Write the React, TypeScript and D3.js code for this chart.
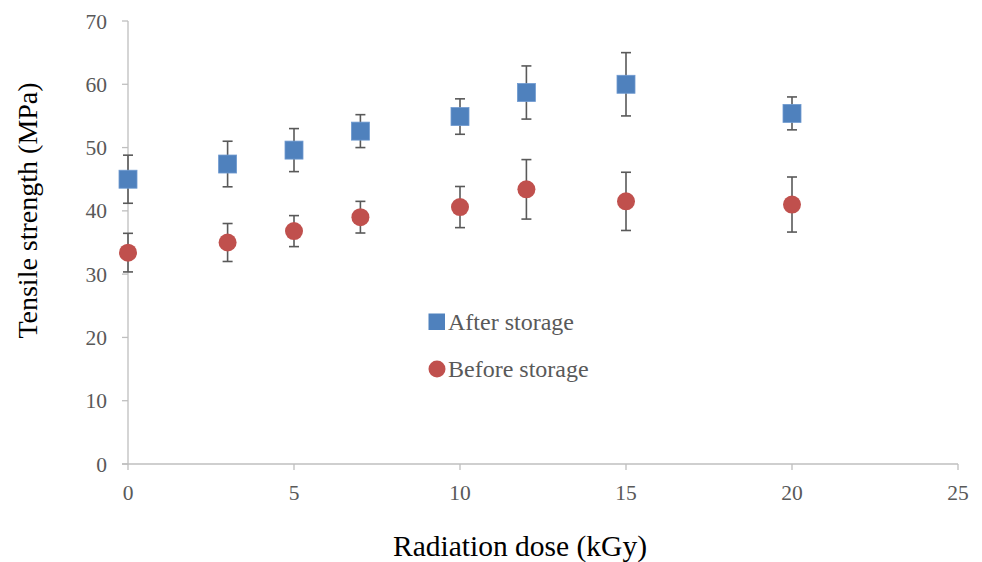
import React from "react";
import * as d3 from "d3";

const doses = [0, 3, 5, 7, 10, 12, 15, 20];
const afterMean = [45.0, 47.4, 49.6, 52.6, 54.9, 58.7, 60.0, 55.4];
const afterErr = [3.8, 3.6, 3.4, 2.6, 2.8, 4.2, 5.0, 2.6];
const beforeMean = [33.4, 35.0, 36.8, 39.0, 40.6, 43.4, 41.5, 41.0];
const beforeErr = [3.05, 3.0, 2.45, 2.5, 3.25, 4.7, 4.6, 4.35];
const xTicks = [0, 5, 10, 15, 20, 25];
const yTicks = [0, 10, 20, 30, 40, 50, 60, 70];

const W = 982;
const H = 562;
const FONT = "'Liberation Serif', 'Times New Roman', serif";

export default function App() {
  const x = d3.scaleLinear().domain([0, 25]).range([128, 958]);
  const y = d3.scaleLinear().domain([0, 70]).range([464, 21]);
  const axisColor = "#BFBFBF";
  const textColor = "#595959";
  const errColor = "#595959";

  const errBar = (xv: number, m: number, e: number, key: string) => {
    const cx = x(xv);
    const t = y(m + e);
    const b = y(m - e);
    return (
      <g key={key} stroke={errColor} strokeWidth={1.6}>
        <line x1={cx} x2={cx} y1={t} y2={b} />
        <line x1={cx - 5} x2={cx + 5} y1={t} y2={t} />
        <line x1={cx - 5} x2={cx + 5} y1={b} y2={b} />
      </g>
    );
  };

  return (
    <svg width={W} height={H} style={{ position: "absolute", left: 0, top: 0 }} fontFamily={FONT}>
      <rect width={W} height={H} fill="#fff" />
      {/* axes */}
      <line x1={x(0)} x2={x(0)} y1={y(70)} y2={y(0)} stroke={axisColor} strokeWidth={1.3} />
      <line x1={x(0) - 6} x2={x(25)} y1={y(0)} y2={y(0)} stroke={axisColor} strokeWidth={1.3} />
      {yTicks.map((t) => (
        <g key={"yt" + t}>
          <line x1={x(0) - 6} x2={x(0)} y1={y(t)} y2={y(t)} stroke={axisColor} strokeWidth={1.3} />
          <text x={107} y={y(t)} dy="0.35em" textAnchor="end" fontSize={21.5} fill={textColor}>
            {t}
          </text>
        </g>
      ))}
      {xTicks.map((t) => (
        <g key={"xt" + t}>
          <line x1={x(t)} x2={x(t)} y1={y(0)} y2={y(0) + 6} stroke={axisColor} strokeWidth={1.3} />
          <text x={x(t)} y={492} dy="0.35em" textAnchor="middle" fontSize={21.5} fill={textColor}>
            {t}
          </text>
        </g>
      ))}
      <text transform={`translate(37,210.5) rotate(-90)`} textAnchor="middle" fontSize={28} fill="#000">
        Tensile strength (MPa)
      </text>
      <text x={520} y={556} textAnchor="middle" fontSize={29.5} fill="#000">
        Radiation dose (kGy)
      </text>

      {/* error bars */}
      {doses.map((d, i) => errBar(d, afterMean[i], afterErr[i], "ea" + i))}
      {doses.map((d, i) => errBar(d, beforeMean[i], beforeErr[i], "eb" + i))}

      {/* markers */}
      {doses.map((d, i) => (
        <rect
          key={"a" + i}
          x={x(d) - 9}
          y={y(afterMean[i]) - 9}
          width={18}
          height={18}
          fill="#4F81BD"
          stroke="#6F9AD0"
          strokeWidth={0.8}
        />
      ))}
      {doses.map((d, i) => (
        <circle key={"b" + i} cx={x(d)} cy={y(beforeMean[i])} r={9} fill="#C0504D" />
      ))}

      {/* legend */}
      <rect x={428.5} y={313.5} width={16.5} height={16.5} fill="#4F81BD" />
      <text x={448} y={322} dy="0.35em" fontSize={24} fill={textColor}>
        After storage
      </text>
      <circle cx={437} cy={369} r={8.5} fill="#C0504D" />
      <text x={448} y={369} dy="0.35em" fontSize={24} fill={textColor}>
        Before storage
      </text>
    </svg>
  );
}
